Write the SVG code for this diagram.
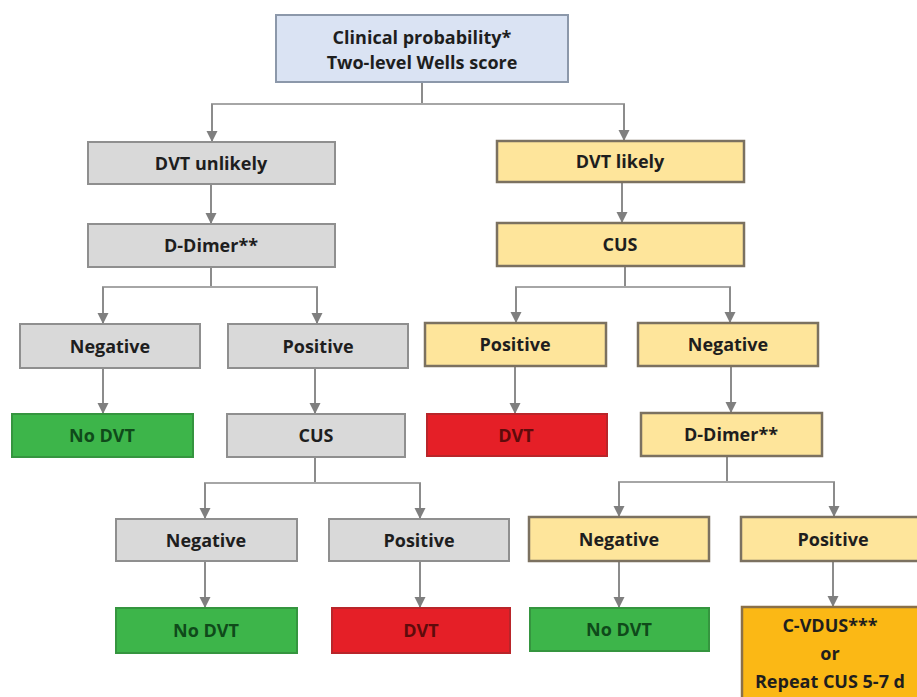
<svg xmlns="http://www.w3.org/2000/svg" width="917" height="697" viewBox="0 0 917 697">
<style>
  rect { stroke-width: 2; }
  .blue { fill: #dae3f3; stroke: #8c98aa; }
  .grey { fill: #d9d9d9; stroke: #8f8f8f; }
  .yel { fill: #fee59b; stroke: #7b7160; stroke-width: 2.5; }
  .green { fill: #3db54a; stroke: #35953f; }
  .red { fill: #e51f27; stroke: #b9252a; }
  .orange { fill: #fbb815; stroke: #8a7048; stroke-width: 2.5; }
  text { font-family: "Open Sans", "Liberation Sans", sans-serif; font-weight: 700; font-size: 18px; text-anchor: middle; fill: #1e1e1e; }
  .tg { fill: #0f4a1a; }
  .tr { fill: #5e0b0b; }
  .conn line { stroke: #8c8c8c; stroke-width: 2; fill: none; }
  .conn .h { stroke: #a6a6a6; }
</style>
<defs>
  <marker id="arr" markerUnits="userSpaceOnUse" markerWidth="12" markerHeight="12" refX="11" refY="6" orient="auto">
    <path d="M0,0.5 L11,6 L0,11.5 z" fill="#7f7f7f"/>
  </marker>
</defs>
<rect width="917" height="697" fill="#ffffff"/>

<g id="connectors" class="conn">
  <line x1="422" y1="82" x2="422" y2="104"/>
  <line class="h" x1="211" y1="104" x2="625" y2="104"/>
  <line x1="212" y1="104" x2="212" y2="142" marker-end="url(#arr)"/>
  <line x1="624" y1="104" x2="624" y2="141" marker-end="url(#arr)"/>
  <line x1="211" y1="184" x2="211" y2="224" marker-end="url(#arr)"/>
  <line x1="211" y1="267" x2="211" y2="287"/>
  <line class="h" x1="102" y1="287" x2="318" y2="287"/>
  <line x1="103" y1="287" x2="103" y2="324" marker-end="url(#arr)"/>
  <line x1="317" y1="287" x2="317" y2="324" marker-end="url(#arr)"/>
  <line x1="103" y1="368" x2="103" y2="414" marker-end="url(#arr)"/>
  <line x1="315" y1="368" x2="315" y2="414" marker-end="url(#arr)"/>
  <line x1="315" y1="457" x2="315" y2="483"/>
  <line class="h" x1="204" y1="483" x2="421" y2="483"/>
  <line x1="205" y1="483" x2="205" y2="519" marker-end="url(#arr)"/>
  <line x1="420" y1="483" x2="420" y2="519" marker-end="url(#arr)"/>
  <line x1="205" y1="561" x2="205" y2="608" marker-end="url(#arr)"/>
  <line x1="420" y1="561" x2="420" y2="608" marker-end="url(#arr)"/>
  <line x1="622" y1="182" x2="622" y2="223" marker-end="url(#arr)"/>
  <line x1="625" y1="266" x2="625" y2="287"/>
  <line class="h" x1="515" y1="287" x2="731" y2="287"/>
  <line x1="516" y1="287" x2="516" y2="323" marker-end="url(#arr)"/>
  <line x1="730" y1="287" x2="730" y2="323" marker-end="url(#arr)"/>
  <line x1="515" y1="366" x2="515" y2="414" marker-end="url(#arr)"/>
  <line x1="731" y1="366" x2="731" y2="413" marker-end="url(#arr)"/>
  <line x1="727" y1="446" x2="727" y2="482"/>
  <line class="h" x1="618" y1="482" x2="835" y2="482"/>
  <line x1="619" y1="482" x2="619" y2="517" marker-end="url(#arr)"/>
  <line x1="834" y1="482" x2="834" y2="517" marker-end="url(#arr)"/>
  <line x1="619" y1="561" x2="619" y2="608" marker-end="url(#arr)"/>
  <line x1="833" y1="561" x2="833" y2="607" marker-end="url(#arr)"/>
</g>

<g id="n-top"><rect class="blue" x="276" y="15" width="292" height="67"/>
  <text x="422" y="44">Clinical probability*</text><text x="422" y="69">Two-level Wells score</text></g>
<g id="n-unlikely"><rect class="grey" x="88" y="142" width="247" height="42"/><text x="211" y="170">DVT unlikely</text></g>
<g id="n-ddimer-l"><rect class="grey" x="88" y="224" width="247" height="43"/><text x="211" y="252">D-Dimer**</text></g>
<g id="n-neg-l"><rect class="grey" x="20" y="324" width="180" height="44"/><text x="110" y="353">Negative</text></g>
<g id="n-pos-l"><rect class="grey" x="228" y="324" width="180" height="44"/><text x="318" y="353">Positive</text></g>
<g id="n-nodvt-l"><rect class="green" x="12" y="414" width="181" height="43"/><text class="tg" x="102" y="442">No DVT</text></g>
<g id="n-cus-l"><rect class="grey" x="227" y="414" width="178" height="43"/><text x="316" y="442">CUS</text></g>
<g id="n-neg-ll"><rect class="grey" x="116" y="519" width="181" height="42"/><text x="206" y="547">Negative</text></g>
<g id="n-pos-ll"><rect class="grey" x="329" y="519" width="180" height="42"/><text x="419" y="547">Positive</text></g>
<g id="n-nodvt-ll"><rect class="green" x="116" y="608" width="181" height="45"/><text class="tg" x="206" y="637">No DVT</text></g>
<g id="n-dvt-ll"><rect class="red" x="332" y="608" width="178" height="45"/><text class="tr" x="421" y="637">DVT</text></g>
<g id="n-likely"><rect class="yel" x="497" y="141" width="247" height="41"/><text x="620" y="168">DVT likely</text></g>
<g id="n-cus-r"><rect class="yel" x="497" y="223" width="247" height="43"/><text x="620" y="251">CUS</text></g>
<g id="n-pos-r"><rect class="yel" x="425" y="323" width="181" height="43"/><text x="515" y="351">Positive</text></g>
<g id="n-neg-r"><rect class="yel" x="638" y="323" width="180" height="43"/><text x="728" y="351">Negative</text></g>
<g id="n-dvt-r"><rect class="red" x="427" y="414" width="180" height="42"/><text class="tr" x="516" y="442">DVT</text></g>
<g id="n-ddimer-r"><rect class="yel" x="641" y="413" width="181" height="43"/><text x="731" y="441">D-Dimer**</text></g>
<g id="n-neg-rr"><rect class="yel" x="529" y="517" width="180" height="44"/><text x="619" y="546">Negative</text></g>
<g id="n-pos-rr"><rect class="yel" x="741" y="517" width="185" height="44"/><text x="833" y="546">Positive</text></g>
<g id="n-nodvt-rr"><rect class="green" x="530" y="608" width="179" height="43"/><text class="tg" x="619" y="636">No DVT</text></g>
<g id="n-cvdus"><rect class="orange" x="742" y="607" width="190" height="100"/>
  <text x="830" y="632">C-VDUS***</text><text x="830" y="660">or</text><text x="830" y="688">Repeat CUS 5-7 d</text></g>
</svg>
